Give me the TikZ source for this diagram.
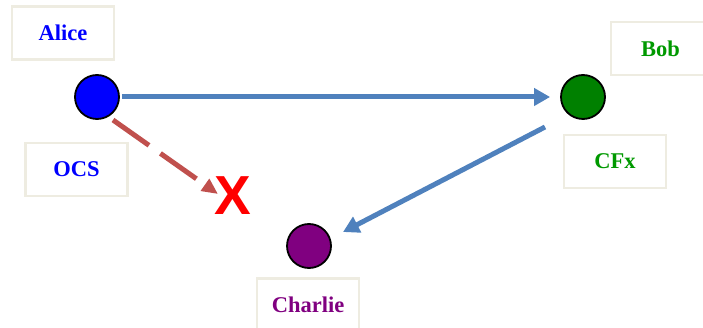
\documentclass[tikz,border=0pt]{standalone}
\usepackage{fontspec}
\setmainfont{Liberation Serif}
\newfontfamily\xfont{Liberation Sans}
\usetikzlibrary{arrows.meta}
\definecolor{boxline}{RGB}{238,236,225}
\definecolor{arrowblue}{RGB}{79,129,189}
\definecolor{arrowred}{RGB}{192,80,77}
\definecolor{bobgreen}{RGB}{0,128,0}
\definecolor{bobtext}{RGB}{0,153,0}
\definecolor{purp}{RGB}{128,0,128}
\tikzset{
  labelbox/.style={draw=boxline, line width=2.8pt, minimum width=102pt, minimum height=53pt,
    inner sep=0pt, font=\fontsize{22.5}{24}\selectfont\bfseries},
  party/.style={circle, draw=black, line width=1.8pt, minimum size=44pt, inner sep=0pt},
  bluearrow/.style={draw=arrowblue, line width=5pt, -{Triangle[length=16pt,width=17pt]}},
  redarrow/.style={draw=arrowred, line width=5pt, dash pattern=on 44pt off 14pt,
    -{Triangle[length=16pt,width=14pt]}},
}
\begin{document}
\begin{tikzpicture}[x=1pt,y=-1pt]
\useasboundingbox (0,0) rectangle (703,328);
\node[labelbox, text=blue] (alicebox) at (63,33) {Alice};
\node[labelbox, text=blue] (ocsbox) at (76.5,169.5) {OCS};
\node[labelbox, text=bobtext] (bobbox) at (662,48.5) {\hspace*{-3pt}Bob};
\node[labelbox, text=bobtext] (cfxbox) at (615,161.5) {CFx};
\node[labelbox, text=purp] (charliebox) at (308,305) {Charlie};
\node[party, fill=blue] (alice) at (97,97) {};
\node[party, fill=bobgreen] (bob) at (583,97) {};
\node[party, fill=purp] (charlie) at (309,246) {};
\node[text=red, font=\xfont\bfseries\fontsize{55}{55}\selectfont, inner sep=0pt] (x) at (233,196) {X};
\coordinate (redstart) at ([shift={(16,23)}]alice.center);
\coordinate (redend) at ([shift={(-15,-2)}]x.center);
\coordinate (bluestart) at ([shift={(-38,30)}]bob.center);
\coordinate (blueend) at ([shift={(34,-14)}]charlie.center);
\draw[bluearrow, shorten <=2pt, shorten >=10pt] (alice) -- (bob);
\draw[bluearrow] (bluestart) -- (blueend);
\draw[redarrow] (redstart) -- (redend);
\end{tikzpicture}
\end{document}
